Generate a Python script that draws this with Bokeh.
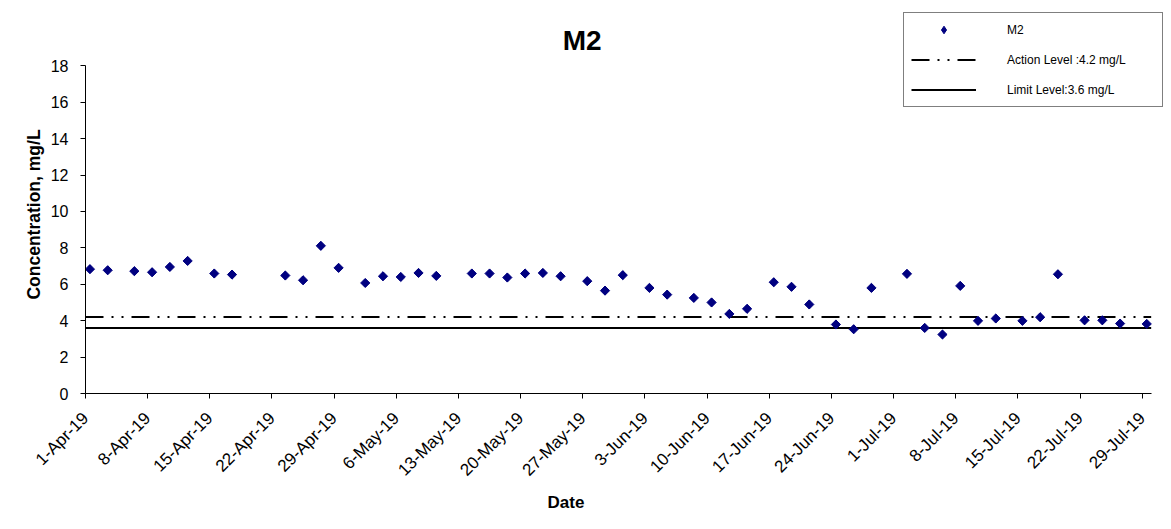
import math
import pandas as pd
from bokeh.plotting import figure
from bokeh.models import (FixedTicker, Legend, LegendItem, Range1d, ColumnDataSource, Label,
                          BoxAnnotation)
from bokeh.embed import file_html
from bokeh.resources import INLINE

# ---- data ----
sample_dates = [
    "2019-04-01", "2019-04-03", "2019-04-06", "2019-04-08", "2019-04-10", "2019-04-12",
    "2019-04-15", "2019-04-17", "2019-04-23", "2019-04-25", "2019-04-27", "2019-04-29",
    "2019-05-02", "2019-05-04", "2019-05-06", "2019-05-08", "2019-05-10", "2019-05-14",
    "2019-05-16", "2019-05-18", "2019-05-20", "2019-05-22", "2019-05-24", "2019-05-27",
    "2019-05-29", "2019-05-31", "2019-06-03", "2019-06-05", "2019-06-08", "2019-06-10",
    "2019-06-12", "2019-06-14", "2019-06-17", "2019-06-19", "2019-06-21", "2019-06-24",
    "2019-06-26", "2019-06-28", "2019-07-02", "2019-07-04", "2019-07-06", "2019-07-08",
    "2019-07-10", "2019-07-12", "2019-07-15", "2019-07-17", "2019-07-19", "2019-07-22",
    "2019-07-24", "2019-07-26", "2019-07-29",
]
m2_values = [
    6.83, 6.77, 6.72, 6.66, 6.95, 7.28, 6.59, 6.53, 6.48, 6.22,
    8.11, 6.90, 6.07, 6.44, 6.40, 6.62, 6.46, 6.59, 6.59, 6.37,
    6.59, 6.62, 6.44, 6.17, 5.65, 6.50, 5.80, 5.43, 5.25, 5.00,
    4.37, 4.65, 6.11, 5.86, 4.89, 3.79, 3.53, 5.80, 6.57, 3.60,
    3.24, 5.91, 3.99, 4.12, 3.99, 4.19, 6.55, 4.02, 4.02, 3.84,
    3.82,
]
action_level = 4.2
limit_level = 3.6
tick_dates = [
    "2019-04-01", "2019-04-08", "2019-04-15", "2019-04-22", "2019-04-29", "2019-05-06",
    "2019-05-13", "2019-05-20", "2019-05-27", "2019-06-03", "2019-06-10", "2019-06-17",
    "2019-06-24", "2019-07-01", "2019-07-08", "2019-07-15", "2019-07-22", "2019-07-29",
]
tick_labels = [
    "1-Apr-19", "8-Apr-19", "15-Apr-19", "22-Apr-19", "29-Apr-19", "6-May-19",
    "13-May-19", "20-May-19", "27-May-19", "3-Jun-19", "10-Jun-19", "17-Jun-19",
    "24-Jun-19", "1-Jul-19", "8-Jul-19", "15-Jul-19", "22-Jul-19", "29-Jul-19",
]
y_ticks = [0, 2, 4, 6, 8, 10, 12, 14, 16, 18]
y_min, y_max = 0, 18
x_start = "2019-04-01"
x_end = "2019-07-30"

FONT = "Liberation Sans"

x_vals = pd.to_datetime(sample_dates) + pd.Timedelta(hours=12)
src = ColumnDataSource(dict(x=x_vals, y=m2_values))
t0 = pd.Timestamp(x_start)
t1 = pd.Timestamp(x_end)

# frame is a bit larger than the axes (room for the legend box, like the original)
p = figure(
    width=1170, height=528,
    x_axis_type="datetime",
    x_range=Range1d(t0, t1 + pd.Timedelta(days=1.5)),
    y_range=Range1d(y_min, y_max * 20.98 / 18),
    output_backend="svg", toolbar_location=None,
    min_border_left=85, min_border_right=6, min_border_top=11, min_border_bottom=135,
)
p.outline_line_color = None
p.xgrid.grid_line_color = None
p.ygrid.grid_line_color = None
p.background_fill_color = "white"
p.border_fill_color = "white"

# level lines
r_action = p.line(x=[t0, t1], y=[action_level, action_level], line_color="black",
                  line_width=2, line_dash="18 8 2 8 2 8")
r_limit = p.line(x=[t0, t1], y=[limit_level, limit_level], line_color="black", line_width=2)

# legend swatch glyph (diamond), fully covered by the rotated squares drawn on top
r_leg = p.scatter("x", "y", source=src, marker="diamond", size=8,
                  fill_color="#000080", line_color="#000080")
# points (rotated squares = Excel-style diamonds)
r_pts = p.scatter("x", "y", source=src, marker="square", angle=math.pi / 4, size=6.5,
                  fill_color="#000080", line_color="#000080")

# title
title = Label(text="M2", x=496.7, y=353, x_units="screen", y_units="screen",
              text_font=FONT, text_font_size="28px", text_font_style="bold",
              text_color="black", text_align="center", text_baseline="alphabetic")
p.add_layout(title)

# axes
tick_ms = [int(pd.Timestamp(d).value // 10**6) for d in tick_dates]
xa = p.xaxis[0]
xa.ticker = FixedTicker(ticks=tick_ms)
xa.major_label_overrides = {ms: lbl for ms, lbl in zip(tick_ms, tick_labels)}
xa.major_label_orientation = math.pi / 4
xa.bounds = (t0, t1)
ya = p.yaxis[0]
ya.ticker = FixedTicker(ticks=y_ticks)
ya.bounds = (y_min, y_max)

for ax in (xa, ya):
    ax.axis_line_color = "black"
    ax.major_tick_line_color = "black"
    ax.minor_tick_line_color = None
    ax.major_tick_in = 0
    ax.major_tick_out = 5
    ax.major_label_text_font = FONT
    ax.major_label_text_font_size = "16px"
    ax.major_label_text_color = "black"
xa.major_label_text_font_size = "17px"
xa.major_label_standoff = 17
ya.major_label_standoff = 12

# axis titles, placed as in the original
date_label = Label(text="Date", x=565.5, y=502, x_units="canvas", y_units="canvas",
                   text_font=FONT, text_font_size="17px", text_font_style="bold",
                   text_color="black", text_align="center", text_baseline="middle")
p.add_layout(date_label, "below")
conc_label = Label(text="Concentration, mg/L", x=33, y=214, x_units="canvas", y_units="canvas",
                   angle=math.pi / 2,
                   text_font=FONT, text_font_size="17.5px", text_font_style="bold",
                   text_color="black", text_align="center", text_baseline="middle")
p.add_layout(conc_label, "left")

# thin chart-area border on the left, as in the original
try:
    edge = BoxAnnotation(left=5, right=6, top=0, bottom=528,
                         left_units="canvas", right_units="canvas",
                         top_units="canvas", bottom_units="canvas",
                         fill_color="#808080", fill_alpha=1, line_color=None)
    p.add_layout(edge, "left")
except Exception:
    pass

# legend
legend = Legend(
    items=[
        LegendItem(label="M2", renderers=[r_leg]),
        LegendItem(label="Action Level :4.2 mg/L", renderers=[r_action]),
        LegendItem(label="Limit Level:3.6 mg/L", renderers=[r_limit]),
    ],
    location=(818, 286),
    orientation="vertical",
    label_text_font=FONT,
    label_text_font_size="12px",
    label_text_color="black",
    glyph_width=65, glyph_height=19, label_height=19,
    label_standoff=31, spacing=11, padding=7, margin=0,
    label_width=148,
    border_line_color="black", border_line_width=1,
    background_fill_color="white", background_fill_alpha=1,
)
p.add_layout(legend, "center")

open("out.html", "w").write(file_html(p, INLINE))
